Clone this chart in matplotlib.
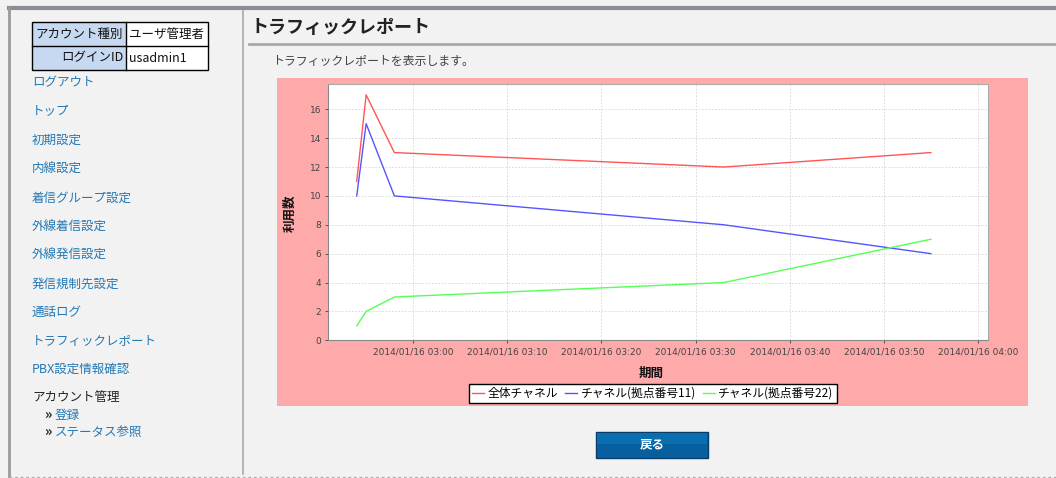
import matplotlib.pyplot as plt
import matplotlib.dates as mdates
from matplotlib.patches import Rectangle
from datetime import datetime

plt.rcParams['font.family'] = ['Noto Sans CJK JP', 'DejaVu Sans']

# Chart data
times = ['2014-01-16 02:54', '2014-01-16 02:55', '2014-01-16 02:58',
         '2014-01-16 03:33', '2014-01-16 03:55']
total = [11, 17, 13, 12, 13]
ch11 = [10, 15, 10, 8, 6]
ch22 = [1, 2, 3, 4, 7]
series_names = ['全体チャネル', 'チャネル(拠点番号11)', 'チャネル(拠点番号22)']
series_colors = ['#ff5555', '#5555ff', '#55ff55']

# Page text
menu_items = ['ログアウト', 'トップ', '初期設定', '内線設定', '着信グループ設定',
              '外線着信設定', '外線発信設定', '発信規制先設定', '通話ログ',
              'トラフィックレポート', 'PBX設定情報確認']
menu_y = [83, 111, 140, 169, 198, 227, 255, 284, 312, 341, 369]
sub_items = ['登録', 'ステータス参照']
sub_y = [415, 432]

W, H = 1056, 478
fig = plt.figure(figsize=(W / 100, H / 100), dpi=100)
fig.patch.set_facecolor('#f2f2f2')

# background axes in pixel coordinates
bg = fig.add_axes([0, 0, 1, 1])
bg.set_xlim(0, W)
bg.set_ylim(H, 0)
bg.axis('off')

# outer frame
bg.plot([9, W], [8, 8], color='#8a8d92', lw=3)
bg.plot([9, 9], [8, H], color='#9a9a9a', lw=2)
bg.plot([9, W], [476.5, 476.5], color='#b0b0b0', lw=1, ls=(0, (2, 2)))
bg.plot([242.5, 242.5], [11, 474], color='#a8a8a8', lw=1.2)

# account table
bg.add_patch(Rectangle((32, 22), 94, 48, facecolor='#c6d9f0', edgecolor='none'))
bg.add_patch(Rectangle((126, 22), 82, 48, facecolor='white', edgecolor='none'))
bg.add_patch(Rectangle((32, 22), 176, 48, facecolor='none', edgecolor='black', lw=1))
bg.plot([32, 208], [46, 46], color='black', lw=1)
bg.plot([126, 126], [22, 70], color='black', lw=1)
bg.text(123, 34, 'アカウント種別', ha='right', va='center', fontsize=9, color='#111')
bg.text(123, 58, 'ログインID', ha='right', va='center', fontsize=9, color='#111')
bg.text(129, 34, 'ユーザ管理者', ha='left', va='center', fontsize=9, color='#111')
bg.text(129, 58, 'usadmin1', ha='left', va='center', fontsize=9, color='#111')

# side menu
for label, y in zip(menu_items, menu_y):
    bg.text(32, y, label, ha='left', va='center', fontsize=9, color='#2479b5')
bg.text(32, 397, 'アカウント管理', ha='left', va='center', fontsize=9, color='#222')
for label, y in zip(sub_items, sub_y):
    bg.text(44, y, '»', ha='left', va='center', fontsize=10, color='#222', fontweight='bold')
    bg.text(55, y, label, ha='left', va='center', fontsize=9, color='#2479b5')

# header
bg.text(251, 27, 'トラフィックレポート', ha='left', va='center', fontsize=13,
        fontweight='bold', color='#222')
bg.plot([249, W], [43.5, 43.5], color='#a8a8a8', lw=2)
bg.text(272, 61, 'トラフィックレポートを表示します。', ha='left', va='center',
        fontsize=8.6, color='#444')

# chart background
bg.add_patch(Rectangle((277, 78), 751, 328, facecolor='#ffaaaa', edgecolor='none'))

# back button
bg.add_patch(Rectangle((596, 432), 112, 26, facecolor='#075f9e', edgecolor='#0a3c66', lw=1))
bg.add_patch(Rectangle((597, 433), 110, 11, facecolor='#0a6fb0', edgecolor='none'))
bg.text(652, 445, '戻る', ha='center', va='center', fontsize=9, fontweight='bold', color='white')

# chart axes
left, right, top, bottom = 327.7, 988.3, 83.7, 340.3
ax = fig.add_axes([left / W, (H - bottom) / H, (right - left) / W, (bottom - top) / H])
ax.set_facecolor('white')

x = [datetime.strptime(t, '%Y-%m-%d %H:%M') for t in times]
for vals, name, col in zip([total, ch11, ch22], series_names, series_colors):
    ax.plot(x, vals, color=col, lw=1.0, label=name)

ax.set_xlim(datetime(2014, 1, 16, 2, 50, 55), datetime(2014, 1, 16, 4, 1, 6))
ax.set_ylim(0, 17.77)
ax.set_yticks(range(0, 17, 2))
ax.xaxis.set_major_locator(mdates.MinuteLocator(byminute=[0, 10, 20, 30, 40, 50]))
ax.xaxis.set_major_formatter(mdates.DateFormatter('%Y/%m/%d %H:%M'))
ax.tick_params(axis='both', labelsize=6.5, colors='#444', length=2.5, width=0.6, pad=2)
ax.tick_params(axis='x', pad=3)
for lab in ax.get_xticklabels() + ax.get_yticklabels():
    lab.set_family('DejaVu Sans')
ax.grid(True, color='#d4d4d4', lw=0.6, ls=(0, (2, 2)))
for side in ['left', 'bottom']:
    ax.spines[side].set_color('#888888')
for side in ['top', 'right']:
    ax.spines[side].set_color('#aaaaaa')
for sp in ax.spines.values():
    sp.set_linewidth(0.8)

ax.set_xlabel('期間', fontsize=9, fontweight='bold', color='#111')
ax.xaxis.set_label_coords(0.489, -0.104)
ax.set_ylabel('利用数', fontsize=9, fontweight='bold', color='#111')
ax.yaxis.set_label_coords(-0.0465, 0.496)

leg = ax.legend(loc='center', bbox_to_anchor=(653 / W, (H - 393.5) / H),
                bbox_transform=fig.transFigure, ncol=3, fontsize=8.5,
                frameon=True, fancybox=False, edgecolor='black', framealpha=1,
                handlelength=1.0, handletextpad=0.3, columnspacing=0.6,
                borderpad=0.25, borderaxespad=0)
leg.get_frame().set_linewidth(1.0)

fig.savefig('out.png', dpi=100, facecolor=fig.get_facecolor())
